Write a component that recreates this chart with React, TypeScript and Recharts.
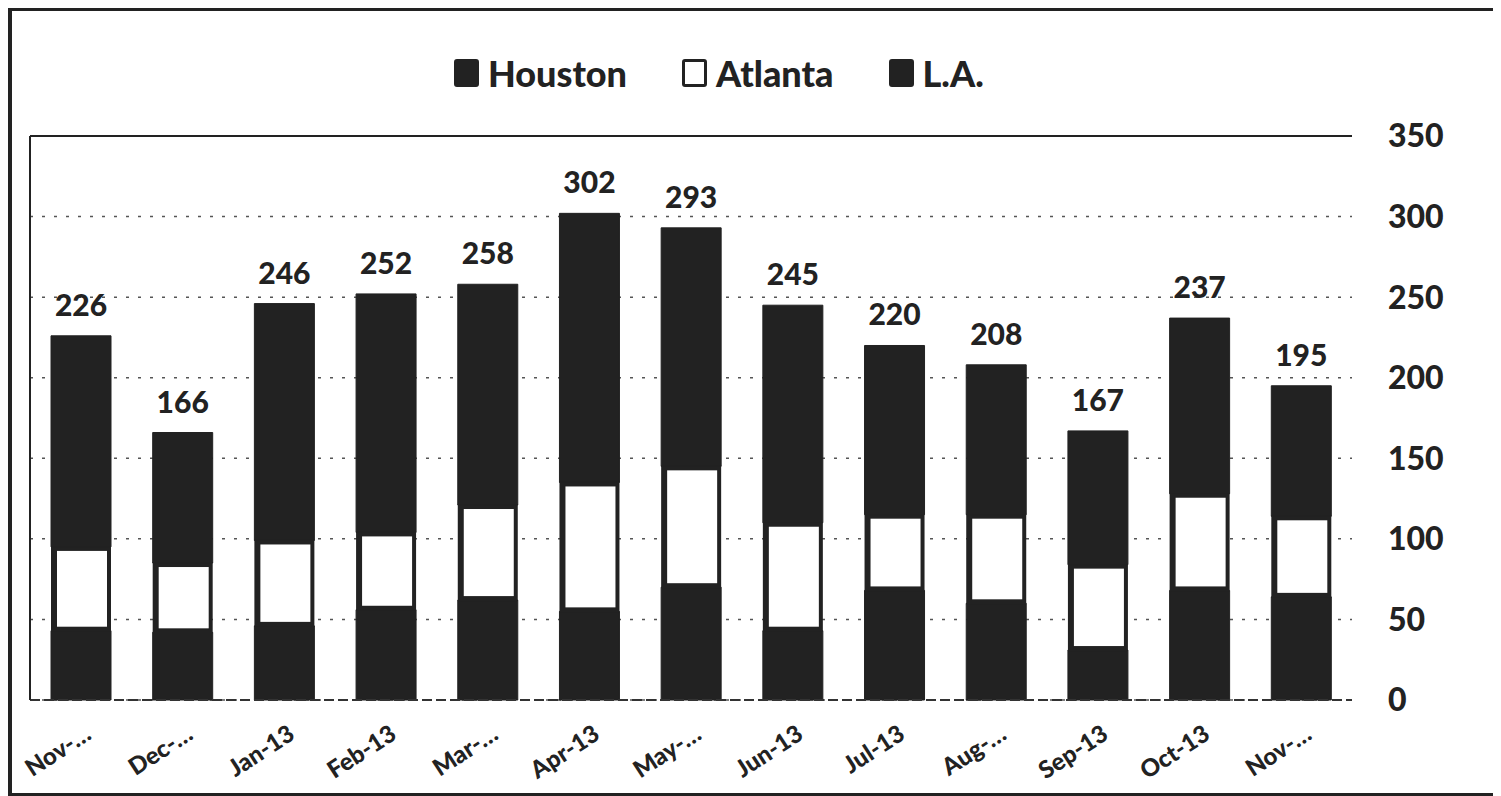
import React from 'react';
import { BarChart, Bar, XAxis, YAxis, CartesianGrid, ReferenceLine, LabelList } from 'recharts';

const months = ['Nov-…', 'Dec-…', 'Jan-13', 'Feb-13', 'Mar-…', 'Apr-13', 'May-…', 'Jun-13', 'Jul-13', 'Aug-…', 'Sep-13', 'Oct-13', 'Nov-…'];
const houston = [43, 42, 46, 56, 62, 55, 70, 43, 68, 60, 31, 68, 64];
const atlanta = [52, 43, 53, 48, 59, 80, 75, 67, 47, 55, 53, 60, 50];
const la = [131, 81, 147, 148, 137, 167, 148, 135, 105, 93, 83, 109, 81];
const totals = [226, 166, 246, 252, 258, 302, 293, 245, 220, 208, 167, 237, 195];
const yTicks = [0, 50, 100, 150, 200, 250, 300, 350];
const seriesNames = ['Houston', 'Atlanta', 'L.A.'];

const DARK = '#222222';
const FONT = 'Lato, "Open Sans", "DejaVu Sans", sans-serif';

const data = months.map((m, i) => ({
  month: m,
  houston: houston[i],
  atlanta: atlanta[i],
  la: la[i],
  total: totals[i],
}));

const AtlantaShape = (props: any) => {
  const { x, y, width, height } = props;
  if (!width || !height) return null;
  return (
    <g>
      <rect x={x} y={y - 1} width={width} height={height + 2} fill={DARK} />
      <rect x={x + 6} y={y + 4} width={Math.max(0, width - 10)} height={Math.max(0, height - 8)} fill="#ffffff" />
    </g>
  );
};

const XTick = (props: any) => {
  const { x, y, payload } = props;
  const ax = x + 12;
  const ty = y + 30;
  return (
    <text
      x={ax}
      y={ty}
      textAnchor="end"
      transform={`rotate(-33, ${ax}, ${ty})`}
      fontFamily={FONT}
      fontWeight={900}
      fontSize={24}
      fill={DARK}
    >
      {payload.value}
    </text>
  );
};

const TotalLabel = (props: any) => {
  const { x, y, width, index } = props;
  return (
    <text
      x={x + width / 2}
      y={y - 20}
      textAnchor="middle"
      fontFamily={FONT}
      fontWeight={900}
      fontSize={30}
      fill={DARK}
    >
      {totals[index]}
    </text>
  );
};

const legendFills = [DARK, '#ffffff', DARK];

export default function App() {
  return (
    <div style={{ position: 'relative', width: 1493, height: 788, background: '#fff' }}>
      <BarChart
        width={1493}
        height={788}
        data={data}
        margin={{ top: 128, right: 0, bottom: 6, left: 21 }}
        barSize={60}
      >
        <CartesianGrid
          yAxisId="right"
          vertical={false}
          stroke="#555"
          strokeWidth={1.5}
          strokeDasharray="3 9"
        />
        <XAxis
          dataKey="month"
          interval={0}
          height={90}
          tickLine={false}
          axisLine={{ stroke: '#333', strokeWidth: 2, strokeDasharray: '10 4' }}
          tick={<XTick />}
        />
        <YAxis
          yAxisId="left"
          orientation="left"
          domain={[0, 350]}
          ticks={yTicks}
          width={1}
          tick={false}
          tickLine={false}
          axisLine={{ stroke: DARK, strokeWidth: 2 }}
        />
        <YAxis
          yAxisId="right"
          orientation="right"
          domain={[0, 350]}
          ticks={yTicks}
          interval={0}
          width={149}
          tickLine={false}
          axisLine={false}
          tickSize={0}
          tickMargin={36}
          tick={{ fontFamily: FONT, fontWeight: 900, fontSize: 32, fill: DARK }}
        />
        <ReferenceLine yAxisId="right" y={350} stroke={DARK} strokeWidth={2} />
        <Bar yAxisId="right" dataKey="houston" name="Houston" stackId="a" fill={DARK} stroke={DARK} strokeWidth={1} isAnimationActive={false} />
        <Bar yAxisId="right" dataKey="atlanta" name="Atlanta" stackId="a" fill="#ffffff" shape={<AtlantaShape />} isAnimationActive={false} />
        <Bar yAxisId="right" dataKey="la" name="L.A." stackId="a" fill={DARK} stroke={DARK} strokeWidth={1} isAnimationActive={false}>
          <LabelList dataKey="la" content={<TotalLabel />} />
        </Bar>
      </BarChart>

      <div
        style={{
          position: 'absolute',
          left: 446,
          top: 44,
          display: 'flex',
          alignItems: 'center',
          fontFamily: FONT,
          fontWeight: 900,
          fontSize: 36,
          color: DARK,
          lineHeight: '42px',
        }}
      >
        {seriesNames.map((name, i) => (
          <div key={name} style={{ display: 'flex', alignItems: 'center', marginRight: i < 2 ? 55 : 0 }}>
            <div
              style={{
                width: 25,
                height: 28,
                boxSizing: 'border-box',
                borderRadius: 3,
                background: legendFills[i],
                border: `3px solid ${DARK}`,
                marginRight: 9,
              }}
            />
            <span>{name}</span>
          </div>
        ))}
      </div>

      <div
        style={{
          position: 'absolute',
          left: 0,
          top: 0,
          width: 1493,
          height: 788,
          boxSizing: 'border-box',
          borderLeft: `4px solid ${DARK}`,
          borderTop: `3px solid ${DARK}`,
          borderBottom: `3px solid ${DARK}`,
          pointerEvents: 'none',
        }}
      />
    </div>
  );
}
